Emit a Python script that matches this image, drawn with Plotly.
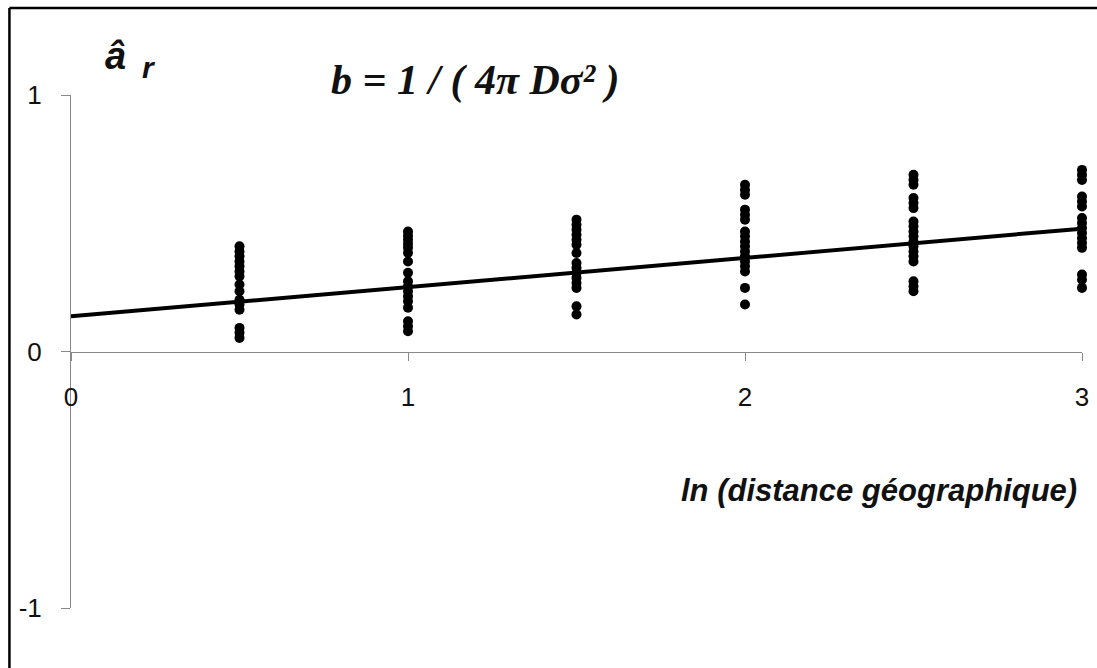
import plotly.graph_objects as go

# Data
x_levels = [0.5, 1.0, 1.5, 2.0, 2.5, 3.0]
a_r_05 = [0.410, 0.390, 0.371, 0.351, 0.332, 0.312, 0.293, 0.261, 0.235, 0.202, 0.183, 0.163, 0.092, 0.073, 0.053]
a_r_10 = [0.468, 0.451, 0.436, 0.420, 0.405, 0.385, 0.351, 0.307, 0.274, 0.254, 0.235, 0.215, 0.196, 0.171, 0.118, 0.098, 0.079]
a_r_15 = [0.514, 0.494, 0.475, 0.455, 0.436, 0.416, 0.384, 0.345, 0.326, 0.306, 0.287, 0.267, 0.248, 0.176, 0.144]
a_r_20 = [0.650, 0.630, 0.611, 0.553, 0.533, 0.514, 0.468, 0.449, 0.429, 0.410, 0.390, 0.371, 0.351, 0.332, 0.312, 0.248, 0.183]
a_r_25 = [0.689, 0.669, 0.650, 0.598, 0.579, 0.559, 0.507, 0.488, 0.468, 0.449, 0.429, 0.410, 0.390, 0.371, 0.351, 0.274, 0.254, 0.235]
a_r_30 = [0.708, 0.689, 0.669, 0.604, 0.585, 0.565, 0.520, 0.501, 0.481, 0.462, 0.442, 0.423, 0.404, 0.300, 0.280, 0.248]
groups = [a_r_05, a_r_10, a_r_15, a_r_20, a_r_25, a_r_30]

fit_x = [0.0, 3.0]
fit_y = [0.137, 0.479]

x_ticks = [0, 1, 2, 3]
y_ticks = [-1, 0, 1]
y_tick_labels = ["-1", "0", "1"]

pts_x, pts_y = [], []
for xv, g in zip(x_levels, groups):
    pts_x += [xv] * len(g)
    pts_y += g

fig = go.Figure()
fig.add_trace(go.Scatter(x=fit_x, y=fit_y, mode="lines",
                         line=dict(color="black", width=4), cliponaxis=False,
                         showlegend=False, hoverinfo="skip"))
fig.add_trace(go.Scatter(x=pts_x, y=pts_y, mode="markers",
                         marker=dict(color="black", size=10),
                         cliponaxis=False, showlegend=False))

axis_font = dict(family="Arial, Liberation Sans, sans-serif", size=26, color="#111")

L, W, T, H = 71, 1018, 95, 513


def px(x):
    return (x - L) / W


def py(y):
    return (T + H - y) / H


fig.update_layout(
    width=1097, height=668,
    margin=dict(l=71, r=8, t=95, b=60),
    paper_bgcolor="white", plot_bgcolor="white",
    xaxis=dict(range=[0, 3], tickvals=x_ticks, ticks="outside", ticklen=8,
               tickcolor="#888", showline=True, linecolor="#888", linewidth=1,
               showgrid=False, zeroline=False, anchor="free", position=0.5,
               tickfont=axis_font, ticklabelstandoff=14),
    yaxis=dict(range=[-1, 1], tickvals=y_ticks, ticktext=y_tick_labels,
               ticks="outside", ticklen=9, tickcolor="#888",
               showline=True, linecolor="#888", linewidth=1,
               showgrid=False, zeroline=False, tickfont=axis_font,
               ticklabelstandoff=14),
    shapes=[
        dict(type="line", xref="paper", yref="paper",
             x0=px(9), x1=px(1200), y0=py(8), y1=py(8),
             line=dict(color="black", width=2.5)),
        dict(type="line", xref="paper", yref="paper",
             x0=px(9), x1=px(9), y0=py(8), y1=py(800),
             line=dict(color="black", width=2.5)),
    ],
    annotations=[
        dict(xref="paper", yref="paper", x=px(1086), y=py(490), xanchor="right",
             yanchor="middle", showarrow=False,
             text="<b><i>ln (distance géographique)</i></b>",
             font=dict(family="Arial, Liberation Sans, sans-serif", size=31, color="#111")),
        dict(xref="paper", yref="paper", x=px(331), y=py(80),
             xanchor="left", yanchor="middle", showarrow=False,
             text="<b><i>b = 1 / ( 4π Dσ² )</i></b>",
             font=dict(family="Liberation Serif, Times New Roman, serif", size=42, color="#111")),
        dict(xref="paper", yref="paper", x=px(116), y=py(56),
             xanchor="center", yanchor="middle", showarrow=False,
             text="<b><i>â</i></b>",
             font=dict(family="Arial, Liberation Sans, sans-serif", size=38, color="#111")),
        dict(xref="paper", yref="paper", x=px(150), y=py(67),
             xanchor="center", yanchor="middle", showarrow=False,
             text="<b><i>r</i></b>",
             font=dict(family="Arial, Liberation Sans, sans-serif", size=30, color="#111")),
    ],
)

fig.write_html("out.html", config={"displayModeBar": False})
